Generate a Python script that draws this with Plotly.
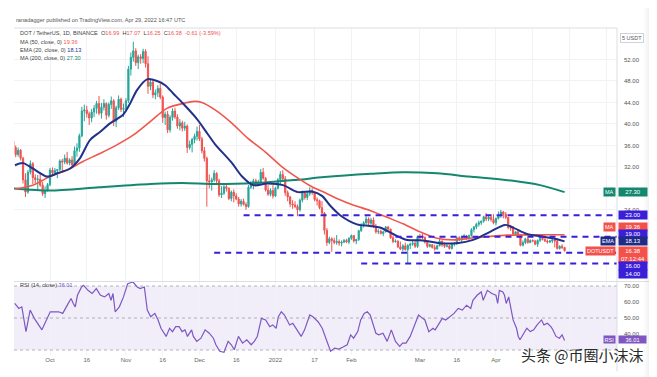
import pandas as pd
import plotly.graph_objects as go

FONT = "Liberation Sans, Arial, sans-serif"
START = pd.Timestamp("2021-09-16")

# ---------------- daily candles DOT/USDT (Sep 16 2021 -> Apr 29 2022) ----------------
open_ = [
    36.8, 35.6, 34.3, 35.1, 33.6, 29.6, 27.3, 31.0, 32.6, 30.0, 29.6, 29.7, 28.6, 27.0, 27.6,
    28.7, 31.4, 30.9, 31.3, 31.5, 33.1, 32.9, 33.6, 32.7, 33.3, 32.4, 35.0, 35.5, 37.8, 42.4, 42.6,
    41.9, 41.1, 42.2, 42.9, 43.8, 42.0, 43.1, 43.8, 41.6, 43.6, 44.3, 40.5, 43.0, 44.6, 42.7,
    42.9, 44.3, 50.2, 52.4, 53.6, 51.4, 52.5, 52.2, 53.5, 51.2, 47.0, 47.8, 45.4, 45.8, 46.6,
    45.0, 41.2, 41.8, 38.9, 41.2, 42.4, 41.3, 39.6, 40.2, 39.2, 39.6, 35.6, 36.2, 37.1, 37.7,
    38.6, 37.2, 35.0, 33.6, 29.4, 29.2, 29.6, 30.8, 29.4, 26.8, 27.1, 28.3, 28.0, 26.1, 27.3, 26.6,
    26.0, 25.1, 25.6, 25.0, 24.6, 28.2, 28.6, 29.4, 28.7, 29.2, 31.0, 29.9, 27.7, 26.9, 27.6,
    26.6, 28.0, 29.6, 30.6, 29.8, 27.2, 26.4, 25.1, 24.9, 24.6, 24.0, 25.8, 27.2, 26.3, 27.0, 27.6,
    27.2, 25.9, 25.7, 24.4, 23.4, 20.2, 17.9, 18.6, 18.3, 17.9, 18.1, 17.8, 18.0, 18.3, 18.0,
    18.7, 19.2, 18.2, 18.5, 20.1, 21.2, 21.6, 22.3, 21.5, 22.1, 20.9, 19.9, 20.0, 19.6,
    19.9, 20.8, 20.4, 18.8, 18.1, 18.2, 17.1, 16.7, 17.3, 16.6, 17.4, 17.6, 17.8, 17.2,
    19.0, 18.9, 18.9, 18.0, 17.2, 17.5, 17.0, 16.7, 17.3, 18.2, 17.5, 17.2, 17.3, 16.8, 17.7, 17.8,
    18.8, 18.4, 19.0, 19.1, 18.7, 19.2, 20.3, 20.8, 21.3, 21.6, 21.9, 22.7, 22.3, 22.6, 22.2,
    21.6, 22.4, 22.9, 23.6, 23.2, 22.6, 20.7, 20.6, 19.5, 19.9, 19.4, 17.4, 17.9, 18.6, 17.9,
    18.3, 18.2, 17.6, 18.3, 18.7, 18.5, 18.2, 18.0, 18.2, 18.4, 18.2, 16.8, 17.2, 16.99,
]
high = [
    37.6, 36.0, 35.6, 35.3, 33.9, 30.8, 31.4, 33.2, 32.9, 30.6, 30.5, 31.0, 29.2, 28.4, 29.0,
    31.8, 31.9, 31.8, 31.6, 33.4, 33.5, 34.3, 34.8, 33.6, 34.0, 35.8, 36.4, 38.2, 43.2, 43.6, 43.4,
    42.3, 42.8, 43.5, 44.3, 45.2, 43.9, 44.6, 44.0, 44.0, 45.1, 44.6, 43.4, 45.3, 44.9, 43.8,
    44.8, 50.8, 53.3, 55.3, 54.1, 52.9, 53.0, 54.0, 53.9, 52.6, 48.4, 48.3, 46.4, 47.2, 47.5,
    45.3, 42.3, 42.4, 41.6, 42.9, 43.0, 41.8, 40.9, 40.6, 40.4, 39.9, 36.9, 37.4, 38.2, 39.5,
    39.8, 37.6, 35.7, 33.9, 30.6, 30.0, 31.4, 31.0, 29.8, 28.4, 28.6, 28.9, 28.2, 27.6, 27.8, 27.1,
    26.4, 26.0, 26.1, 25.4, 28.6, 29.4, 29.8, 29.8, 29.6, 31.6, 31.8, 30.1, 28.6, 28.0, 28.6,
    28.3, 29.9, 31.2, 31.4, 30.3, 27.6, 26.6, 25.8, 25.6, 25.0, 26.1, 27.6, 27.5, 27.4, 28.2, 28.0,
    27.4, 26.3, 25.9, 25.6, 23.6, 20.6, 19.0, 18.9, 18.8, 19.3, 18.5, 18.3, 18.6, 18.6, 18.9,
    19.4, 19.3, 18.6, 20.3, 21.5, 21.9, 22.8, 22.6, 22.5, 22.6, 21.4, 20.4, 20.3, 20.1,
    21.0, 21.0, 20.5, 19.2, 18.5, 18.3, 18.1, 17.6, 17.9, 17.6, 17.9, 18.3, 18.3, 19.2,
    19.5, 19.6, 19.0, 18.1, 17.7, 17.6, 17.5, 17.5, 18.6, 18.3, 17.9, 17.6, 17.5, 17.9, 18.0, 19.0,
    19.1, 19.2, 19.5, 19.3, 19.4, 20.6, 21.0, 21.6, 22.0, 22.0, 22.9, 23.4, 23.0, 22.9, 23.2,
    22.6, 23.7, 24.0, 23.8, 23.6, 22.7, 21.2, 21.0, 20.0, 20.2, 19.5, 18.3, 18.8, 18.9, 18.5,
    18.5, 18.4, 18.5, 18.9, 19.3, 19.5, 18.5, 18.4, 18.6, 18.7, 18.4, 17.4, 17.6, 17.07,
]
low = [
    35.2, 33.8, 33.9, 33.2, 28.9, 26.4, 27.0, 30.6, 28.8, 29.0, 27.7, 28.3, 26.6, 26.2, 27.4,
    28.4, 30.4, 30.6, 29.9, 31.2, 31.0, 32.5, 32.4, 32.3, 32.0, 32.2, 33.9, 34.8, 37.5, 40.5, 41.2,
    39.8, 40.3, 41.3, 41.9, 41.6, 41.0, 42.5, 40.8, 41.2, 42.8, 39.6, 39.4, 42.6, 42.2, 41.3,
    42.3, 43.9, 49.0, 51.6, 50.8, 50.2, 51.2, 51.3, 50.5, 45.6, 46.3, 44.8, 44.6, 45.0, 44.6,
    40.2, 39.8, 38.3, 38.4, 40.6, 40.9, 39.1, 38.8, 38.6, 38.7, 34.6, 35.2, 34.7, 36.4, 36.9,
    36.8, 34.5, 33.0, 24.6, 28.0, 27.6, 29.2, 28.6, 26.4, 26.2, 26.8, 27.4, 25.8, 25.6, 25.4, 25.8,
    24.6, 24.6, 24.8, 24.0, 24.4, 27.9, 27.8, 28.3, 28.4, 28.9, 29.6, 27.4, 26.6, 26.5, 26.1,
    26.4, 27.8, 28.7, 29.4, 26.6, 25.6, 24.5, 24.2, 24.3, 22.8, 23.7, 25.4, 25.9, 25.8, 26.6, 26.8,
    25.6, 24.8, 24.1, 23.0, 19.4, 17.3, 17.6, 16.2, 17.6, 17.5, 17.3, 17.2, 17.8, 17.8, 17.6,
    18.4, 17.9, 17.6, 18.2, 19.9, 20.7, 21.3, 20.9, 21.1, 20.6, 19.6, 19.5, 19.4, 19.1,
    19.8, 20.0, 18.6, 17.8, 17.9, 16.9, 16.5, 16.3, 16.4, 14.0, 16.7, 17.3, 16.9, 16.9,
    18.3, 18.5, 17.7, 16.9, 17.0, 16.8, 16.4, 16.6, 17.2, 17.1, 16.9, 17.0, 16.6, 16.6, 17.2, 17.5,
    18.2, 18.0, 18.7, 18.4, 18.4, 19.0, 19.8, 20.4, 20.9, 21.2, 21.6, 21.9, 21.9, 21.8, 21.3,
    21.1, 22.2, 22.5, 22.4, 22.3, 20.4, 20.1, 19.3, 19.3, 19.2, 17.2, 17.2, 17.6, 17.7, 17.8,
    18.0, 17.4, 17.1, 18.0, 18.3, 18.0, 17.7, 17.8, 17.8, 17.0, 16.6, 16.6, 16.7, 16.25,
]
close = [
    35.6, 34.3, 35.1, 33.6, 29.6, 27.3, 31.0, 32.6, 30.0, 29.6, 29.7, 28.6, 27.0, 27.6, 28.7,
    31.4, 30.9, 31.3, 31.5, 33.1, 32.9, 33.6, 32.7, 33.3, 32.4, 35.0, 35.5, 37.8, 42.4, 42.6, 41.9,
    41.1, 42.2, 42.9, 43.8, 42.0, 43.1, 43.8, 41.6, 43.6, 44.3, 40.5, 43.0, 44.6, 42.7, 42.9,
    44.3, 50.2, 52.4, 53.6, 51.4, 52.5, 52.2, 53.5, 51.2, 47.0, 47.8, 45.4, 45.8, 46.6, 45.0,
    41.2, 41.8, 38.9, 41.2, 42.4, 41.3, 39.6, 40.2, 39.2, 39.6, 35.6, 36.2, 37.1, 37.7, 38.6,
    37.2, 35.0, 33.6, 29.4, 29.2, 29.6, 30.8, 29.4, 26.8, 27.1, 28.3, 28.0, 26.1, 27.3, 26.6, 26.0,
    25.1, 25.6, 25.0, 24.6, 28.2, 28.6, 29.4, 28.7, 29.2, 31.0, 29.9, 27.7, 26.9, 27.6, 26.6,
    28.0, 29.6, 30.6, 29.8, 27.2, 26.4, 25.1, 24.9, 24.6, 24.0, 25.8, 27.2, 26.3, 27.0, 27.6, 27.2,
    25.9, 25.7, 24.4, 23.4, 20.2, 17.9, 18.6, 18.3, 17.9, 18.1, 17.8, 18.0, 18.3, 18.0, 18.7,
    19.2, 18.2, 18.5, 20.1, 21.2, 21.6, 22.3, 21.5, 22.1, 20.9, 19.9, 20.0, 19.6, 19.9,
    20.8, 20.4, 18.8, 18.1, 18.2, 17.1, 16.7, 17.3, 16.6, 17.4, 17.6, 17.8, 17.2, 19.0,
    18.9, 18.9, 18.0, 17.2, 17.5, 17.0, 16.7, 17.3, 18.2, 17.5, 17.2, 17.3, 16.8, 17.7, 17.8, 18.8,
    18.4, 19.0, 19.1, 18.7, 19.2, 20.3, 20.8, 21.3, 21.6, 21.9, 22.7, 22.3, 22.6, 22.2, 21.6,
    22.4, 22.9, 23.6, 23.2, 22.6, 20.7, 20.6, 19.5, 19.9, 19.4, 17.4, 17.9, 18.6, 17.9, 18.3,
    18.2, 17.6, 18.3, 18.7, 18.5, 18.2, 18.0, 18.2, 18.4, 18.2, 16.8, 17.2, 16.99, 16.38,
]
assert len(open_) == len(high) == len(low) == len(close) == 226
dates = pd.date_range(START, periods=len(close), freq="D")

# ---------------- indicator lines (day offset from START, value) ----------------
ma50_day = [0.7, 8, 15, 22, 28.5, 35.4, 42.3, 48.9, 55.8, 62.7, 70, 74, 77, 82.4, 89.3, 95.8, 102.8,
            109.7, 116.2, 121.9, 127.3, 132.1, 138.7, 145.6, 152.6, 159.1, 166, 173, 179.5, 186.4,
            193, 202, 212, 225]
ma50_val = [27.9, 28.6, 30.2, 31.4, 33.0, 34.5, 36.1, 37.9, 40.4, 42.9, 43.9, 44.2, 44.0, 42.6, 40.1,
            37.3, 34.8, 32.0, 29.9, 28.3, 27.2, 26.1, 24.9, 23.9, 22.6, 21.4, 19.9, 18.7, 18.4, 18.7,
            19.0, 19.3, 19.35, 19.36]

ema20_day = [0.7, 4, 8, 13.8, 17.9, 23.2, 27.2, 31.3, 35.4, 39.5, 44.8, 47.7, 50.5, 54.6, 58.7, 62,
             65.2, 69.3, 75, 79.1, 82.4, 89.3, 93.4, 97.9, 103.6, 110.1, 116.2, 121.9, 126, 129.3,
             133.4, 140.3, 145.6, 149.7, 155, 160.7, 167.2, 174.2, 181.1, 187.7, 194.6, 200.7, 204,
             209.7, 216.2, 220.3, 225]
ema20_val = [32.3, 32.7, 31.7, 30.2, 30.8, 31.7, 33.6, 37.0, 38.5, 40.1, 41.7, 43.8, 46.3, 48.3, 48.0,
             47.2, 45.7, 43.8, 40.9, 38.3, 36.2, 32.7, 30.2, 28.6, 28.9, 28.6, 27.3, 27.4, 26.6, 24.8,
             23.0, 21.3, 21.0, 20.7, 19.5, 18.4, 18.3, 17.8, 17.8, 18.4, 19.9, 21.2, 20.7, 19.5, 19.0,
             18.7, 18.13]

ma200_day = [0, 15, 35, 56, 69, 83, 103, 116, 127, 146, 159, 173, 186, 204, 215, 225]
ma200_val = [28.0, 27.6, 28.2, 28.8, 29.0, 28.8, 29.1, 29.6, 30.1, 30.7, 31.0, 30.8, 30.2, 29.4, 28.6, 27.3]

rsi_day = [0.6, 2.3, 3.5, 5.2, 6.9, 8.6, 11.7, 15.1, 18.5, 20.2, 22.8, 23.6, 24.5, 25.3, 26.2, 27.9,
           28.7, 30.5, 32.2, 33.9, 35.6, 37.3, 39.0, 39.9, 40.7, 41.6, 43.3, 45.0, 46.7, 48.9, 50.6,
           51.8, 53.5, 54.7, 56.1, 57.8, 59.1, 60.3, 62.4, 63.8, 65.0, 66.3, 67.7, 68.9, 70.1, 71.1,
           72.8, 73.5, 74.9, 76.6, 78.3, 80.0, 81.7, 82.7, 84.3, 86.0, 87.7, 89.0, 90.2, 91.9, 93.6,
           95.3, 97.1, 98.4, 99.6, 101.3, 103.0, 104.7, 105.9, 107.3, 108.2, 109.4, 110.7, 112.8,
           114.1, 116.2, 117.5, 118.9, 120.1, 121.0, 122.3, 124.4, 126.1, 127.8, 129.5, 131.2,
           132.9, 134.6, 136.3, 137.7, 138.9, 140.6, 141.8, 143.2, 144.5, 145.7, 148.0, 149.2,
           150.9, 152.6, 154.3, 156.0, 157.7, 158.9, 160.3, 162.0, 163.7, 165.4, 167.1, 168.0,
           169.6, 171.3, 172.2, 173.9, 175.1, 176.5, 178.2, 179.9, 181.6, 183.3, 185.0, 186.7,
           187.6, 189.3, 191.0, 191.8, 193.5, 195.3, 197.0, 197.7, 198.4, 199.8, 200.5, 201.2,
           202.2, 204.0, 205.4, 206.1, 206.8, 208.2, 209.6, 211.0, 212.4, 213.8, 215.6, 216.6,
           218.0, 219.4, 220.1, 221.5, 222.9, 224.0, 225.0]
rsi_val = [59.1, 56.0, 57.0, 41.5, 55.0, 49.8, 42.6, 53.9, 53.9, 52.9, 60.1, 62.2, 59.1, 57.0, 64.2,
           69.4, 70.4, 67.3, 65.3, 68.4, 64.2, 63.2, 65.3, 61.1, 65.3, 53.9, 57.0, 63.2, 71.4, 72.5,
           69.4, 68.4, 69.4, 55.0, 50.8, 52.9, 48.8, 43.6, 38.5, 43.6, 41.5, 44.6, 44.6, 41.5, 42.6,
           38.5, 42.6, 38.5, 35.4, 37.4, 42.6, 40.5, 37.4, 33.3, 29.2, 28.6, 35.4, 33.3, 30.2, 38.5,
           34.3, 36.4, 33.3, 35.4, 38.5, 49.8, 48.8, 44.6, 45.7, 43.6, 50.8, 53.9, 51.9, 45.7, 46.7,
           41.5, 38.5, 42.6, 48.8, 51.9, 50.8, 47.7, 43.6, 36.4, 29.2, 31.2, 30.6, 31.9, 33.3, 39.5,
           37.4, 41.5, 48.8, 52.9, 53.9, 51.9, 40.5, 39.5, 40.5, 35.4, 42.6, 35.4, 32.3, 34.3, 34.3,
           38.5, 45.7, 51.9, 49.8, 48.8, 41.5, 43.6, 42.6, 46.7, 49.8, 48.8, 50.8, 52.9, 56.0, 55.0,
           58.0, 56.0, 61.1, 64.2, 66.3, 61.1, 67.3, 65.3, 64.2, 59.1, 67.3, 66.3, 64.2, 59.1, 63.2,
           48.8, 43.6, 38.5, 36.4, 40.5, 43.6, 41.5, 42.6, 45.7, 48.8, 45.7, 46.7, 44.6, 43.0, 38.5,
           37.4, 39.5, 36.01]

# ---------------- drawn horizontal levels ----------------
level_price = [23.0, 19.0, 16.0, 14.0]
level_from = ["2021-12-19", "2022-02-19", "2021-12-07", "2022-02-05"]
level_to = "2022-05-22"

# ---------------- axes ----------------
tick_dates = ["2021-10-01", "2021-10-16", "2021-11-01", "2021-11-16", "2021-12-01", "2021-12-16",
              "2022-01-01", "2022-01-17", "2022-02-01", "2022-03-01", "2022-03-16", "2022-04-01",
              "2022-04-16", "2022-05-01", "2022-05-16"]
# the last three date labels sit under the watermark in the original and are not readable
tick_text = ["Oct", "16", "Nov", "16", "Dec", "16", "2022", "17", "Feb", "Mar", "16", "Apr", "", "", ""]
price_ticks = [24, 28, 32, 36, 40, 44, 48, 52]
price_tick_text = ["24.00", "", "32.00", "36.00", "40.00", "44.00", "48.00", "52.00"]  # 28.00 hidden by MA tag
rsi_ticks = [30, 40, 50, 60, 70]
rsi_tick_text = ["", "40.00", "50.00", "60.00", "70.00"]  # 30.00 hidden by watermark

C_UP, C_DN = "#26a69a", "#ef5350"
C_MA50, C_EMA, C_MA200 = "#f0574c", "#22318a", "#14876f"
C_LVL, C_RSI = "#3b1fd8", "#7e57c2"


def day(d):
    return START + pd.Timedelta(days=d)


fig = go.Figure()
fig.add_trace(go.Candlestick(
    x=dates, open=open_, high=high, low=low, close=close, xaxis="x", yaxis="y",
    increasing=dict(line=dict(color=C_UP, width=1), fillcolor=C_UP),
    decreasing=dict(line=dict(color=C_DN, width=1), fillcolor=C_DN),
    whiskerwidth=0, hoverinfo="skip", showlegend=False))

for dd, vv, col, w in [(ma200_day, ma200_val, C_MA200, 2), (ma50_day, ma50_val, C_MA50, 1.6),
                       (ema20_day, ema20_val, C_EMA, 2)]:
    fig.add_trace(go.Scatter(x=[day(d) for d in dd], y=vv, mode="lines", xaxis="x", yaxis="y",
                             line=dict(color=col, width=w, shape="spline", smoothing=0.8),
                             hoverinfo="skip", showlegend=False))

for p, f in zip(level_price, level_from):
    fig.add_trace(go.Scatter(x=[f, level_to], y=[p, p], mode="lines", xaxis="x", yaxis="y",
                             line=dict(color=C_LVL, width=2, dash="6px,5px"),
                             hoverinfo="skip", showlegend=False))

fig.add_trace(go.Scatter(x=[day(d) for d in rsi_day], y=rsi_val, mode="lines", xaxis="x2", yaxis="y2",
                         line=dict(color=C_RSI, width=1.2), hoverinfo="skip", showlegend=False))

x_range = [day(0.31), day(246.4)]
grid = "#f1f2f6"
# the page body adds an 8px offset, so margins are set 8px smaller on the top/left
fig.update_layout(
    width=657, height=377, margin=dict(l=6, r=48, t=20, b=30),
    paper_bgcolor="white", plot_bgcolor="white", font=dict(family=FONT, size=6, color="#555"),
    xaxis=dict(domain=[0, 1], anchor="y", range=x_range, rangeslider=dict(visible=False),
               tickvals=tick_dates, showticklabels=False, showgrid=True, gridcolor=grid, ticks="",
               zeroline=False),
    xaxis2=dict(domain=[0, 1], anchor="y2", range=x_range, matches="x", tickvals=tick_dates,
                ticktext=tick_text, showgrid=True, gridcolor=grid, ticks="",
                tickfont=dict(size=6, color="#666"), zeroline=False),
    yaxis=dict(domain=[0.2263, 1], range=[10.75, 57.86], side="right", tickvals=price_ticks,
               ticktext=price_tick_text, showgrid=True, gridcolor=grid,
               tickfont=dict(size=6, color="#555"), ticks="", ticklabelstandoff=6, zeroline=False),
    yaxis2=dict(domain=[0, 0.2232], range=[26.9, 72.5], side="right", tickvals=rsi_ticks,
                ticktext=rsi_tick_text, showgrid=False,
                tickfont=dict(size=6, color="#555"), ticks="", ticklabelstandoff=6, zeroline=False),
)

# RSI band & guide lines
fig.add_shape(type="rect", xref="x2 domain", yref="y2", x0=0, x1=1, y0=30, y1=70,
              fillcolor="rgba(126,87,194,0.10)", line=dict(width=0), layer="below")
for v in [70, 50, 30]:
    fig.add_shape(type="line", xref="x2 domain", yref="y2", x0=0, x1=1, y0=v, y1=v,
                  line=dict(color="rgba(120,123,134,0.55)", width=1, dash="3px,3px"))

# pane borders
border = "#dcdee6"
fig.add_shape(type="line", xref="paper", yref="paper", x0=0, x1=1, y0=1, y1=1, line=dict(color=border, width=1))
fig.add_shape(type="line", xref="paper", yref="paper", x0=0, x1=1.066, y0=0.2248, y1=0.2248, line=dict(color=border, width=1))
fig.add_shape(type="line", xref="paper", yref="paper", x0=1, x1=1, y0=-0.05, y1=1, line=dict(color=border, width=1))

# right screenshot shadow
for i in range(7):
    x0 = (644 + i * 2 - 14) / 603
    fig.add_shape(type="rect", xref="paper", yref="paper", x0=x0, x1=x0 + 2 / 603, y0=-0.07, y1=1.09,
                  fillcolor="#9a9aa0", opacity=0.04 + i * 0.045, line=dict(width=0), layer="above")

# ---------------- texts ----------------
def txt(x, y, s, size=6, color="#444", xanchor="left", **kw):
    fig.add_annotation(x=x, y=y, xref="paper", yref="paper", text=s, showarrow=False,
                       font=dict(size=size, color=color, family=kw.pop("family", FONT)),
                       xanchor=xanchor, yanchor="middle", **kw)


def py(pix):
    return (355 - pix) / 327


def px(pix):
    return (pix - 14) / 603


txt(px(14), py(20), "ranadagger published on TradingView.com, Apr 29, 2022 16:47 UTC", size=5.6, color="#555")
chg = close[-1] - open_[-1]
red = "#ef5350"
sp = lambda c, s: f"<span style='color:{c}'>{s}</span>"
txt(px(18), py(33), "DOT / TetherUS, 1D, BINANCE  O" + sp(red, f"{open_[-1]:.2f}") + "  H" + sp(red, f"{high[-1]:.2f}")
    + "  L" + sp(red, f"{low[-1]:.2f}") + "  C" + sp(red, f"{close[-1]:.2f}") + "  "
    + sp(red, f"{chg:+.2f} ({chg / open_[-1] * 100:+.2f}%)"), size=5.6, color="#444")
txt(px(18), py(42), "MA (50, close, 0) " + sp(C_MA50, f"{ma50_val[-1]:.2f}"), size=5.6)
txt(px(18), py(50), "EMA (20, close, 0) " + sp(C_EMA, f"{ema20_val[-1]:.2f}"), size=5.6)
txt(px(18), py(58), "MA (200, close, 0) " + sp(C_MA200, f"{ma200_val[-1]:.2f}"), size=5.6)
txt(px(18), py(285), "RSI (14, close) " + sp(C_RSI, f"{rsi_val[-1]:.2f}"), size=5.6)

# top axis unit box
fig.add_annotation(x=1, xref="paper", xshift=3, y=py(33), yref="paper", text="5 USDT", showarrow=False,
                   font=dict(size=5.5, color="#555", family=FONT), xanchor="left", bordercolor="#cfd2da",
                   borderwidth=1, borderpad=1, bgcolor="white")


def box(text, y, color, yref="y", yshift=0, side="value", size=6, pad=1):
    if side == "value":
        fig.add_annotation(x=1, xref="paper", xshift=1, y=y, yref=yref, yshift=yshift, text=text,
                           showarrow=False, font=dict(size=size, color="white", family=FONT), bgcolor=color,
                           borderpad=pad, xanchor="left", width=26, align="center")
    else:
        fig.add_annotation(x=1, xref="paper", xshift=-1, y=y, yref=yref, yshift=yshift, text=text,
                           showarrow=False, font=dict(size=min(size, 5.5), color="white", family=FONT),
                           bgcolor=color, borderpad=pad, xanchor="right")


box(f"{ma200_val[-1]:.2f}", ma200_val[-1], C_MA200)
box("MA", ma200_val[-1], C_MA200, side="label")
box(f"{level_price[0]:.2f}", level_price[0], C_LVL)
box(f"{ma50_val[-1]:.2f}", ma50_val[-1], "#f4514a", yshift=8)
box("MA", ma50_val[-1], "#f4514a", yshift=8, side="label")
box(f"{level_price[1]:.2f}", level_price[1], C_LVL, yshift=3)
box(f"{ema20_val[-1]:.2f}", ema20_val[-1], "#1f2b86")
box("EMA", ema20_val[-1], "#1f2b86", side="label")
box(f"{close[-1]:.2f}<br>07:12:44", close[-1], "#f4514a", yshift=-4)
box("DOTUSDT", close[-1], "#f4514a", side="label")
box(f"{level_price[2]:.2f}", level_price[2], C_LVL, yshift=-13)
box(f"{level_price[3]:.2f}", level_price[3], C_LVL, yshift=-10)
box(f"{rsi_val[-1]:.2f}", rsi_val[-1], C_RSI, yref="y2", yshift=0.5, size=5.6, pad=0.5)
box("RSI", rsi_val[-1], C_RSI, yref="y2", yshift=0.5, side="label", size=5.5, pad=0.5)

# watermark
txt(px(582), py(354.5), "头条 @币圈小沫沫", size=15, color="#2a2a2a", xanchor="center",
    family="Noto Sans CJK SC", borderpad=0)

fig.write_html("out.html", config={"displayModeBar": False})
